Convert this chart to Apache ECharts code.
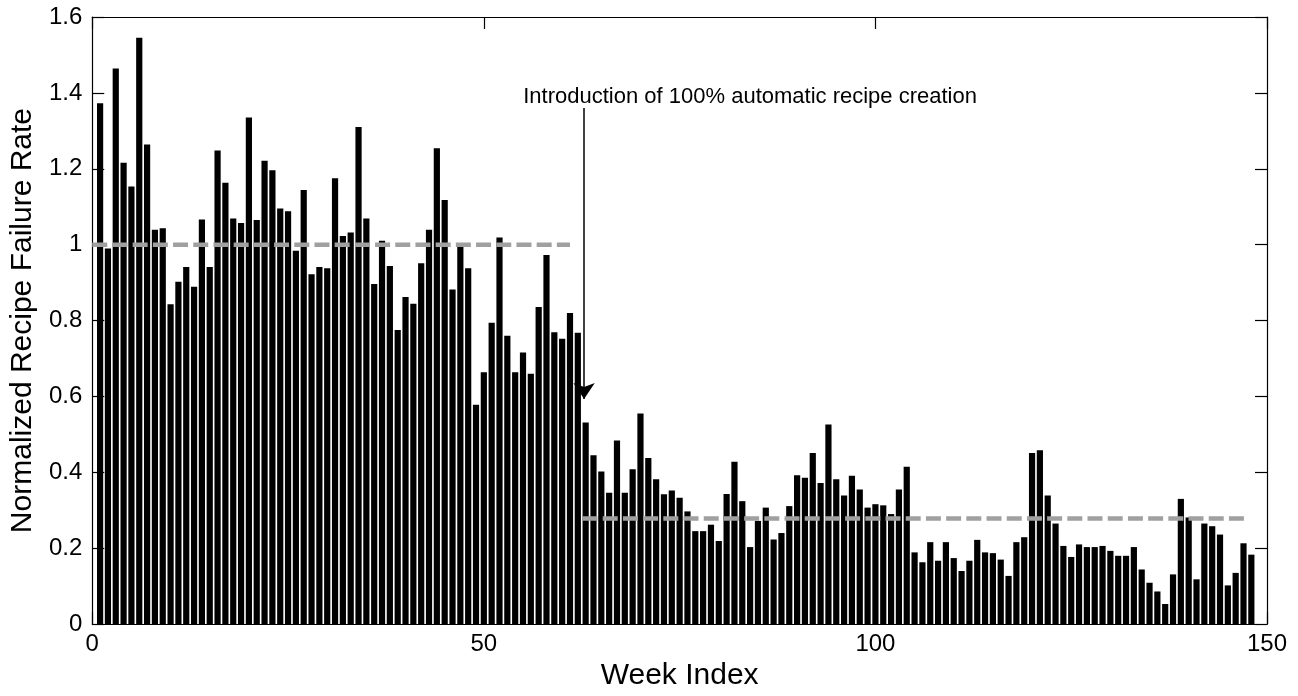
<!DOCTYPE html>
<html>
<head>
<meta charset="utf-8">
<script src="https://cdn.jsdelivr.net/npm/echarts@6/dist/echarts.min.js"></script>
<style>
html,body{margin:0;padding:0;background:#fff;}
#chart{width:1298px;height:696px;}
</style>
</head>
<body>
<div id="chart"></div>
<script>
// ---- data ----
var failureRate = [
  1.373, 0.990, 1.464, 1.216, 1.153, 1.545, 1.264, 1.039, 1.043, 0.843,
  0.902, 0.941, 0.889, 1.066, 0.941, 1.248, 1.163, 1.069, 1.057, 1.335,
  1.065, 1.221, 1.196, 1.095, 1.088, 0.984, 1.144, 0.922, 0.941, 0.938,
  1.175, 1.023, 1.032, 1.310, 1.069, 0.896, 1.010, 0.944, 0.775, 0.862,
  0.844, 0.951, 1.039, 1.254, 1.118, 0.882, 0.994, 0.938, 0.578, 0.664,
  0.794, 1.019, 0.760, 0.664, 0.716, 0.660, 0.836, 0.973, 0.769, 0.752,
  0.820, 0.768, 0.531, 0.445, 0.402, 0.346, 0.484, 0.346, 0.408, 0.555,
  0.438, 0.382, 0.342, 0.352, 0.333, 0.297, 0.245, 0.245, 0.262, 0.219,
  0.343, 0.428, 0.324, 0.203, 0.272, 0.307, 0.223, 0.240, 0.311, 0.392,
  0.386, 0.451, 0.372, 0.526, 0.382, 0.339, 0.391, 0.355, 0.307, 0.316,
  0.313, 0.290, 0.355, 0.415, 0.189, 0.163, 0.216, 0.167, 0.216, 0.174,
  0.140, 0.167, 0.222, 0.189, 0.187, 0.170, 0.127, 0.216, 0.229, 0.451,
  0.458, 0.339, 0.265, 0.206, 0.177, 0.210, 0.203, 0.203, 0.206, 0.193,
  0.180, 0.180, 0.203, 0.144, 0.109, 0.086, 0.053, 0.131, 0.330, 0.281,
  0.118, 0.265, 0.258, 0.236, 0.102, 0.135, 0.213, 0.183
];
var firstWeek = 1;                 // week index of first bar
var meanBefore = [[0, 1.0], [61, 1.0]];          // dashed mean before change
var meanAfter = [[62.6, 0.278], [147.3, 0.278]]; // dashed mean after change
var changeWeek = 62.8;
var arrowFrom = 1.36, arrowTo = 0.593;
var annotationText = 'Introduction of 100% automatic recipe creation';
var annotationPos = [84, 1.39];
var xTicks = [0, 50, 100, 150];
var yTicks = [0, 0.2, 0.4, 0.6, 0.8, 1.0, 1.2, 1.4, 1.6];
var xTitle = 'Week Index';
var yTitle = 'Normalized Recipe Failure Rate';

// ---- build chart ----
var barData = failureRate.map(function (v, i) { return [firstWeek + i, v]; });
var FONT = '"Liberation Sans", Arial, Helvetica, sans-serif';

var chart = echarts.init(document.getElementById('chart'), null, {renderer: 'canvas'});
var axisCommon = {
  axisLine: {show: true, onZero: false, lineStyle: {color: '#000', width: 1.2}},
  axisTick: {show: true, inside: true, length: 12, lineStyle: {color: '#000', width: 1.2}},
  splitLine: {show: false}
};
chart.setOption({
  animation: false,
  backgroundColor: '#fff',
  grid: {left: 92, right: 31, top: 17, bottom: 64, containLabel: false},
  xAxis: [
    Object.assign({
      type: 'value', min: xTicks[0], max: xTicks[xTicks.length - 1], interval: 50,
      position: 'bottom',
      name: xTitle, nameLocation: 'middle', nameGap: 30,
      nameTextStyle: {fontFamily: FONT, fontSize: 30, color: '#000'},
      axisLabel: {show: true, margin: 8, fontFamily: FONT, fontSize: 24, color: '#000'}
    }, axisCommon),
    Object.assign({
      type: 'value', min: xTicks[0], max: xTicks[xTicks.length - 1], interval: 50,
      position: 'top', axisLabel: {show: false}
    }, axisCommon)
  ],
  yAxis: [
    Object.assign({
      type: 'value', min: yTicks[0], max: yTicks[yTicks.length - 1], interval: 0.2,
      position: 'left',
      name: yTitle, nameLocation: 'middle', nameGap: 51, nameRotate: 90,
      nameTextStyle: {fontFamily: FONT, fontSize: 30, color: '#000'},
      axisLabel: {show: true, margin: 10, fontFamily: FONT, fontSize: 24, color: '#000',
        formatter: function (v) { return String(Math.round(v * 10) / 10); }}
    }, axisCommon),
    Object.assign({
      type: 'value', min: yTicks[0], max: yTicks[yTicks.length - 1], interval: 0.2,
      position: 'right', axisLabel: {show: false}
    }, axisCommon)
  ],
  series: [
    {
      type: 'bar', xAxisIndex: 0, yAxisIndex: 0,
      data: barData,
      barWidth: 6.2,
      itemStyle: {color: '#000', borderColor: '#000', borderWidth: 0},
      z: 2,
      markLine: {
        silent: true, symbol: ['none', 'arrow'], symbolSize: 16,
        lineStyle: {color: '#000', width: 1.5, type: 'solid'},
        label: {show: false},
        data: [[{coord: [changeWeek, arrowFrom]}, {coord: [changeWeek, arrowTo]}]]
      },
      markPoint: {
        silent: true, symbol: 'circle', symbolSize: 0,
        label: {show: true, position: 'inside', formatter: annotationText,
          fontFamily: FONT, fontSize: 22, color: '#000'},
        data: [{coord: annotationPos}]
      }
    },
    {
      type: 'line', xAxisIndex: 0, yAxisIndex: 0, data: meanBefore,
      symbol: 'none', z: 5,
      lineStyle: {color: '#a0a0a0', width: 4.5, type: [15, 5.2]}
    },
    {
      type: 'line', xAxisIndex: 0, yAxisIndex: 0, data: meanAfter,
      symbol: 'none', z: 5,
      lineStyle: {color: '#a0a0a0', width: 4.5, type: [15, 5.2]}
    }
  ]
});
</script>
</body>
</html>
